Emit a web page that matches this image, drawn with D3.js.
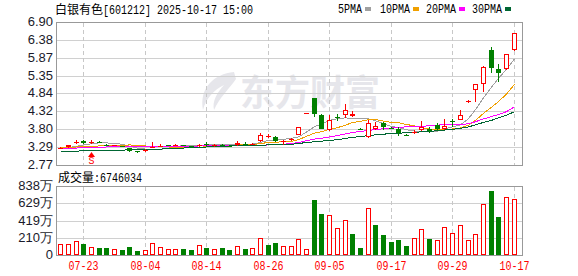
<!DOCTYPE html>
<html><head><meta charset="utf-8">
<script src="https://cdn.jsdelivr.net/npm/d3@7/dist/d3.min.js"></script>
<style>body{margin:0;background:#fff}svg{display:block}</style>
</head><body>
<svg id="c" width="578" height="276"></svg>
<script>
// ---------------- data ----------------
const stockName = "白银有色";
const stockInfo = "[601212] 2025-10-17 15:00";
const volumeLabel = "成交量";
const dates = ["07-18","07-21","07-22","07-23","07-24","07-25","07-28","07-29","07-30","07-31",
"08-01","08-04","08-05","08-06","08-07","08-08","08-11","08-12","08-13","08-14",
"08-15","08-18","08-19","08-20","08-21","08-22","08-25","08-26","08-27","08-28",
"08-29","09-01","09-02","09-03","09-04","09-05","09-08","09-09","09-10","09-11",
"09-12","09-15","09-16","09-17","09-18","09-19","09-22","09-23","09-24","09-25",
"09-26","09-29","09-30","10-09","10-10","10-13","10-14","10-15","10-16","10-17"];
const openP = [3.24,3.29,3.42,3.47,3.42,3.44,3.36,3.33,3.32,3.26,
3.16,3.16,3.27,3.31,3.35,3.33,3.35,3.32,3.31,3.38,
3.31,3.36,3.33,3.34,3.39,3.36,3.45,3.60,3.59,3.44,
3.48,3.65,4.25,4.70,4.20,3.79,4.16,4.20,4.18,3.82,
3.57,3.80,3.97,3.85,3.80,3.65,3.69,3.77,3.82,3.92,
3.80,4.03,4.07,4.61,4.93,5.11,6.09,5.54,5.54,6.09];
const highP = [3.29,3.36,3.48,3.49,3.49,3.45,3.37,3.36,3.33,3.27,
3.18,3.23,3.43,3.37,3.36,3.38,3.36,3.33,3.38,3.42,
3.38,3.37,3.34,3.45,3.43,3.41,3.69,3.66,3.62,3.48,
3.56,3.88,4.28,4.71,4.24,4.21,4.23,4.52,4.34,3.83,
4.07,4.00,4.02,3.86,3.88,3.67,3.78,4.04,3.86,3.97,
4.11,4.09,4.37,4.64,5.10,5.62,6.19,5.69,5.98,6.57];
const lowP = [3.22,3.27,3.38,3.38,3.38,3.42,3.32,3.31,3.29,3.14,
3.12,3.14,3.26,3.28,3.32,3.31,3.33,3.30,3.30,3.33,
3.30,3.34,3.31,3.32,3.33,3.34,3.43,3.55,3.44,3.35,
3.45,3.63,4.24,4.16,3.81,3.76,4.05,4.12,4.15,3.80,
3.56,3.79,3.78,3.82,3.61,3.62,3.66,3.76,3.70,3.74,
3.78,3.88,4.06,4.55,4.60,4.87,5.42,5.18,5.50,6.07];
const closeP = [3.27,3.35,3.43,3.41,3.44,3.43,3.33,3.34,3.31,3.16,
3.15,3.21,3.28,3.32,3.34,3.35,3.34,3.31,3.36,3.35,
3.36,3.35,3.32,3.40,3.37,3.39,3.63,3.61,3.46,3.47,
3.53,3.86,4.27,4.25,3.82,4.06,4.14,4.35,4.23,3.81,
3.97,3.90,3.88,3.84,3.68,3.64,3.71,3.87,3.75,3.80,
3.90,4.02,4.20,4.63,5.10,5.61,5.56,5.44,5.97,6.57];
const prevClose = 3.22;
const volume = [1340000,1340000,1700000,1340000,930000,850000,850000,730000,650000,970000,
530000,610000,1460000,930000,730000,730000,730000,630000,1170000,810000,
690000,810000,610000,1050000,730000,810000,2020000,1210000,1460000,1050000,
1050000,1900000,690000,6680000,4980000,4820000,3240000,4210000,2550000,850000,
5670000,3640000,2430000,1620000,1820000,1090000,2020000,3120000,1940000,1820000,
3360000,2670000,3640000,1820000,2550000,6190000,7810000,4620000,7040000,6746034];
const ma5 = [3.24,3.27,3.31,3.35,3.38,3.41,3.41,3.39,3.37,3.31,
3.26,3.23,3.22,3.22,3.26,3.30,3.33,3.33,3.34,3.35,
3.35,3.35,3.35,3.36,3.36,3.37,3.42,3.48,3.49,3.51,
3.54,3.58,3.72,3.88,3.95,4.06,4.11,4.13,4.12,4.12,
4.10,4.05,3.96,3.88,3.85,3.79,3.75,3.75,3.73,3.75,
3.81,3.87,3.93,4.11,4.37,4.71,5.02,5.27,5.54,5.83];
const ma10 = [3.27,3.28,3.29,3.30,3.31,3.32,3.33,3.33,3.34,3.35,
3.33,3.32,3.31,3.30,3.29,3.28,3.28,3.28,3.28,3.30,
3.32,3.34,3.34,3.35,3.35,3.36,3.39,3.42,3.43,3.44,
3.45,3.50,3.60,3.69,3.73,3.80,3.85,3.92,4.00,4.03,
4.08,4.08,4.04,4.00,3.99,3.94,3.90,3.85,3.81,3.80,
3.80,3.81,3.84,3.92,4.06,4.26,4.44,4.60,4.82,5.10];
const ma20 = [3.24,3.25,3.26,3.27,3.28,3.28,3.29,3.29,3.29,3.29,
3.29,3.29,3.29,3.29,3.30,3.30,3.31,3.31,3.32,3.32,
3.33,3.33,3.32,3.32,3.32,3.32,3.33,3.35,3.36,3.37,
3.39,3.42,3.47,3.52,3.54,3.58,3.62,3.67,3.71,3.74,
3.77,3.79,3.82,3.84,3.86,3.87,3.88,3.89,3.90,3.92,
3.94,3.95,3.94,3.96,4.02,4.10,4.17,4.23,4.31,4.45];
const ma30 = [3.17,3.17,3.17,3.18,3.18,3.18,3.18,3.18,3.20,3.21,
3.22,3.22,3.23,3.23,3.24,3.25,3.26,3.27,3.28,3.29,
3.30,3.31,3.32,3.33,3.33,3.34,3.34,3.35,3.36,3.36,
3.37,3.39,3.42,3.44,3.46,3.48,3.50,3.54,3.57,3.59,
3.62,3.64,3.66,3.68,3.69,3.70,3.71,3.73,3.74,3.76,
3.78,3.80,3.83,3.87,3.93,4.00,4.06,4.13,4.21,4.31];
const maNames = ["5PMA","10PMA","20PMA","30PMA"];
const priceTicks = [2.77,3.29,3.80,4.32,4.84,5.35,5.87,6.38,6.90];
const priceTickLabels = ["2.77","3.29","3.80","4.32","4.84","5.35","5.87","6.38","6.90"];
const volTicks = [0,2100000,4190000,6290000,8380000];
const volTickLabels = ["0","210万","419万","629万","838万"];
const xTickDates = ["07-23","08-04","08-14","08-26","09-05","09-17","09-29","10-17"];
const signalDate = "07-24";
const signalText = "S";
const watermark = "东方财富";

// ---------------- layout / style ----------------
const L = 56, R = 522, PT = 22, PB = 165, VT = 186, VB = 255;
const RED = "#ff0000", GREEN = "#008000";
const maColors = ["#a0a0a0","#f0a000","#ff00ff","#006633"];
const MONO = "'Liberation Mono','DejaVu Sans Mono',monospace";
const CJK = "'Noto Sans CJK SC',sans-serif";
const SANS = "'Liberation Sans',Arial,sans-serif";

const svg = d3.select("#c");
const x = d3.scaleBand().domain(dates).range([56.3, 517.5]).padding(0);
const xc = d => Math.round(x(d) + x.bandwidth() / 2);
const y = d3.scaleLinear().domain([2.77, 6.90]).range([PB, PT]);
const yv = d3.scaleLinear().domain([0, 8380000]).range([VB, VT]);

// watermark
const wm = svg.append("g").attr("fill", "#e6e6eb");
wm.append("path").attr("d", "M234 72 C214 74 199 88 203 110 C206 98 214 90 224 85 C217 93 212 101 214 110 C220 97 229 89 236 79 Z");
wm.append("text").attr("x", 240).attr("y", 106).attr("font-family", CJK).attr("font-weight", 700)
  .attr("font-size", 36).attr("textLength", 140).attr("lengthAdjust", "spacingAndGlyphs").text(watermark);

// grids
const grid = svg.append("g").attr("shape-rendering", "crispEdges");
priceTicks.slice(1, -1).forEach(v => {
  const r = Math.round(y(v)) + 0.5;
  grid.append("line").attr("x1", L).attr("x2", R).attr("y1", r).attr("y2", r).attr("stroke", "#d0d0d0");
});
volTicks.slice(1, -1).forEach(v => {
  const r = Math.round(yv(v)) + 0.5;
  grid.append("line").attr("x1", L).attr("x2", R).attr("y1", r).attr("y2", r).attr("stroke", "#d0d0d0");
});
xTickDates.forEach(d => {
  const cx = xc(d) + 0.5;
  [[PT + 1, PB], [VT + 1, VB]].forEach(([a, b]) =>
    grid.append("line").attr("x1", cx).attr("x2", cx).attr("y1", a).attr("y2", b)
      .attr("stroke", "#c8c8c8").attr("stroke-dasharray", "4,3"));
});

// borders
svg.append("rect").attr("x", L + 0.5).attr("y", PT + 0.5).attr("width", R - L).attr("height", PB - PT)
  .attr("fill", "none").attr("stroke", "#999");
svg.append("rect").attr("x", L + 0.5).attr("y", VT + 0.5).attr("width", R - L).attr("height", VB - VT)
  .attr("fill", "none").attr("stroke", "#999");

// MA lines
const lineGen = d3.line().x((v, i) => xc(dates[i]) + 0.5).y(v => y(v));
[ma5, ma10, ma20, ma30].forEach((arr, k) => {
  svg.append("path").datum(arr).attr("d", lineGen).attr("fill", "none")
    .attr("stroke", maColors[k]).attr("stroke-width", 1).attr("shape-rendering", "crispEdges");
});

// candles
const cg = svg.append("g").attr("shape-rendering", "crispEdges");
dates.forEach((d, i) => {
  const o = openP[i], c = closeP[i], h = highP[i], l = lowP[i];
  const pc = i === 0 ? prevClose : closeP[i - 1];
  const up = c > o || (c === o && c >= pc);
  const col = up ? RED : GREEN;
  const cx = xc(d);
  const top = Math.round(y(Math.max(o, c))), bot = Math.round(y(Math.min(o, c)));
  const hi = Math.round(y(h)), lo = Math.round(y(l));
  const bh = Math.max(1, bot - top);
  if (up && bh > 2) {
    if (top > hi) cg.append("rect").attr("x", cx).attr("y", hi).attr("width", 1).attr("height", top - hi).attr("fill", col);
    if (lo > bot) cg.append("rect").attr("x", cx).attr("y", bot).attr("width", 1).attr("height", lo - bot).attr("fill", col);
    cg.append("rect").attr("x", cx - 1.5).attr("y", top + 0.5).attr("width", 4).attr("height", bh - 1)
      .attr("fill", "#fff").attr("stroke", col);
  } else {
    cg.append("rect").attr("x", cx).attr("y", hi).attr("width", 1).attr("height", Math.max(1, lo - hi)).attr("fill", col);
    cg.append("rect").attr("x", cx - 2).attr("y", top).attr("width", 5).attr("height", bh).attr("fill", col);
  }
});

// signal marker
{
  const cx = xc(signalDate) + 0.5;
  svg.append("path").attr("d", `M${cx} 152 L${cx - 3.5} 157 L${cx + 3.5} 157 Z`).attr("fill", RED);
  svg.append("text").attr("x", cx).attr("y", 164).attr("text-anchor", "middle").attr("font-family", MONO)
    .attr("font-size", 11).attr("fill", RED).attr("textLength", 6).attr("lengthAdjust", "spacingAndGlyphs").text(signalText);
}

// volume bars
const vg = svg.append("g").attr("shape-rendering", "crispEdges");
dates.forEach((d, i) => {
  const pc = i === 0 ? prevClose : closeP[i - 1];
  const up = closeP[i] >= pc;
  const cx = xc(d);
  const top = Math.round(yv(volume[i]));
  if (up) vg.append("rect").attr("x", cx - 1.5).attr("y", top + 0.5).attr("width", 4).attr("height", VB - 1 - top)
    .attr("fill", "#fff").attr("stroke", RED);
  else vg.append("rect").attr("x", cx - 2).attr("y", top).attr("width", 5).attr("height", VB - top).attr("fill", GREEN);
});

// y axes (labels)
const ya = svg.append("g").attr("transform", `translate(${L},0)`)
  .call(d3.axisLeft(y).tickValues(priceTicks).tickFormat((d, i) => priceTickLabels[i]).tickSize(0).tickPadding(3));
const va = svg.append("g").attr("transform", `translate(${L},0)`)
  .call(d3.axisLeft(yv).tickValues(volTicks).tickFormat((d, i) => volTickLabels[i]).tickSize(0).tickPadding(3));
[ya, va].forEach(g => {
  g.select(".domain").remove();
  g.selectAll("text").attr("font-family", SANS).attr("font-size", 13).attr("fill", "#1a1a2a").attr("dy", "0.28em");
});

// x labels
svg.append("g").selectAll("text").data(xTickDates).join("text")
  .attr("x", d => xc(d) + 0.5).attr("y", 270).attr("text-anchor", "middle")
  .attr("font-family", MONO).attr("font-size", 12).attr("fill", RED)
  .attr("textLength", 30).attr("lengthAdjust", "spacingAndGlyphs").text(d => d);

// title
svg.append("text").attr("x", 55).attr("y", 14).attr("font-family", CJK).attr("font-size", 12).attr("fill", "#000").text(stockName);
svg.append("text").attr("x", 103).attr("y", 14).attr("font-family", MONO).attr("font-size", 12).attr("fill", "#000")
  .attr("textLength", stockInfo.length * 6).attr("lengthAdjust", "spacingAndGlyphs").text(stockInfo);

// legend
const legX = [338, 380, 426, 472];
maNames.forEach((n, k) => {
  svg.append("text").attr("x", legX[k]).attr("y", 13).attr("font-family", MONO).attr("font-size", 12).attr("fill", "#000")
    .attr("textLength", n.length * 6).attr("lengthAdjust", "spacingAndGlyphs").text(n);
  svg.append("rect").attr("x", legX[k] + n.length * 6 + 3).attr("y", 7).attr("width", 6).attr("height", 4).attr("fill", maColors[k]);
});

// volume caption
const vtxt = ":" + volume[volume.length - 1];
svg.append("text").attr("x", 58).attr("y", 182).attr("font-family", CJK).attr("font-size", 12).attr("fill", "#000").text(volumeLabel);
svg.append("text").attr("x", 94).attr("y", 182).attr("font-family", MONO).attr("font-size", 12).attr("fill", "#000")
  .attr("textLength", vtxt.length * 6).attr("lengthAdjust", "spacingAndGlyphs").text(vtxt);
</script>
</body></html>
